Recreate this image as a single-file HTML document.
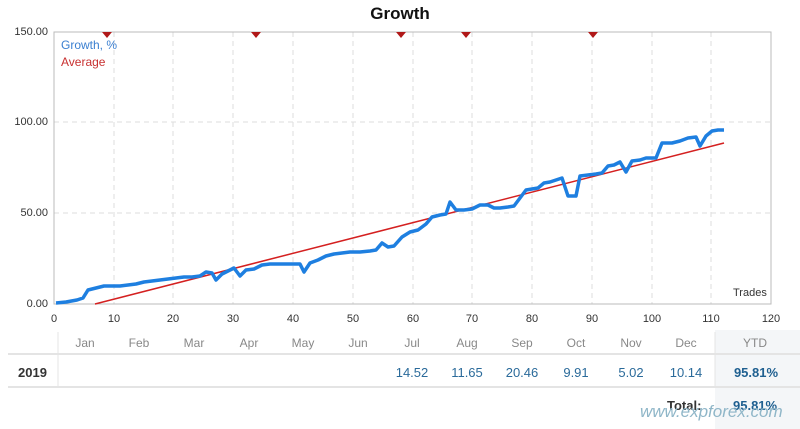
<!DOCTYPE html>
<html><head><style>
body{margin:0;width:800px;height:429px;background:#fff;font-family:"Liberation Sans","DejaVu Sans",sans-serif;overflow:hidden;position:relative}
.t{position:absolute;font-size:12px;color:#333}
.m{position:absolute;top:336px;font-size:12px;color:#888;width:50px;text-align:center}
.v{position:absolute;top:365px;font-size:13px;color:#2a6a9a;width:50px;text-align:center}
</style></head><body>
<svg width="800" height="429" style="position:absolute;left:0;top:0">
<rect x="715" y="330" width="85" height="99" fill="#f4f6f8"/>
<g stroke="#ddd" stroke-dasharray="5,4">
<line x1="54" y1="122" x2="771" y2="122"/><line x1="54" y1="213" x2="771" y2="213"/>
<line x1="114" y1="32" x2="114" y2="304"/><line x1="173" y1="32" x2="173" y2="304"/><line x1="233" y1="32" x2="233" y2="304"/><line x1="293" y1="32" x2="293" y2="304"/><line x1="353" y1="32" x2="353" y2="304"/><line x1="413" y1="32" x2="413" y2="304"/><line x1="472" y1="32" x2="472" y2="304"/><line x1="532" y1="32" x2="532" y2="304"/><line x1="592" y1="32" x2="592" y2="304"/><line x1="652" y1="32" x2="652" y2="304"/><line x1="711" y1="32" x2="711" y2="304"/>
</g>
<rect x="54" y="32" width="717" height="272" fill="none" stroke="#bbb"/>
<line x1="95" y1="304" x2="724" y2="143" stroke="#d42020" stroke-width="1.5"/>
<polyline fill="none" stroke="#1e7fe0" stroke-width="3.5" stroke-linejoin="round" points="56,303 66,302 77,300 83,298 88,290 96,288 104,286 112,286 120,286 128,285 136,284 144,282 152,281 160,280 168,279 176,278 184,277 192,277 200,276 206,272 212,273 216,280 222,274 230,270 234,268 240,276 246,270 254,269 262,265 270,264 280,264 296,264 300,264 304,272 310,263 318,260 326,256 334,254 342,253 350,252 360,252 370,251 376,250 382,243 388,247 394,246 402,237 410,232 418,230 426,224 432,217 440,215 446,214 450,202 456,210 464,210 472,209 480,205 488,205 494,208 500,208 508,207 514,206 520,198 526,190 532,189 538,188 544,183 550,182 556,180 562,178 568,196 576,196 580,176 588,175 596,174 602,173 608,166 614,165 620,162 626,172 632,161 640,160 646,158 656,158 662,143 672,143 680,141 688,138 696,137 700,146 706,136 712,131 718,130 724,130"/>
<g fill="#b01818"><path d="M102,32h10l-5,6z"/><path d="M251,32h10l-5,6z"/><path d="M396,32h10l-5,6z"/><path d="M461,32h10l-5,6z"/><path d="M588,32h10l-5,6z"/></g>
<line x1="8" y1="354" x2="800" y2="354" stroke="#e4e4e4" stroke-width="2"/>
<line x1="8" y1="387" x2="800" y2="387" stroke="#e4e4e4" stroke-width="2"/>
<line x1="58" y1="332" x2="58" y2="387" stroke="#e4e4e4"/>
<line x1="715" y1="332" x2="715" y2="387" stroke="#e4e4e4"/>
</svg>
<div class="t" style="left:0;width:800px;text-align:center;top:4px;font-size:17px;font-weight:bold;color:#111">Growth</div>
<div class="t" style="left:61px;top:38px;color:#3a7fd0">Growth, %</div>
<div class="t" style="left:61px;top:55px;color:#c83030">Average</div>
<div class="t" style="left:733px;top:287px;font-size:11px">Trades</div>
<div class="t" style="left:10px;top:26px;font-size:11px;width:38px;text-align:right">150.00</div>
<div class="t" style="left:10px;top:116px;font-size:11px;width:38px;text-align:right">100.00</div>
<div class="t" style="left:10px;top:207px;font-size:11px;width:38px;text-align:right">50.00</div>
<div class="t" style="left:10px;top:298px;font-size:11px;width:38px;text-align:right">0.00</div>
<div style="position:absolute;top:313px;left:0;font-size:11px;color:#333">
<span style="position:absolute;left:44px;width:20px;text-align:center">0</span><span style="position:absolute;left:104px;width:20px;text-align:center">10</span><span style="position:absolute;left:163px;width:20px;text-align:center">20</span><span style="position:absolute;left:223px;width:20px;text-align:center">30</span><span style="position:absolute;left:283px;width:20px;text-align:center">40</span><span style="position:absolute;left:343px;width:20px;text-align:center">50</span><span style="position:absolute;left:403px;width:20px;text-align:center">60</span><span style="position:absolute;left:462px;width:20px;text-align:center">70</span><span style="position:absolute;left:522px;width:20px;text-align:center">80</span><span style="position:absolute;left:582px;width:20px;text-align:center">90</span><span style="position:absolute;left:638px;width:28px;text-align:center">100</span><span style="position:absolute;left:697px;width:28px;text-align:center">110</span><span style="position:absolute;left:757px;width:28px;text-align:center">120</span>
</div>
<div class="m" style="left:60px">Jan</div><div class="m" style="left:114px">Feb</div><div class="m" style="left:169px">Mar</div><div class="m" style="left:224px">Apr</div><div class="m" style="left:278px">May</div><div class="m" style="left:333px">Jun</div><div class="m" style="left:387px">Jul</div><div class="m" style="left:442px">Aug</div><div class="m" style="left:497px">Sep</div><div class="m" style="left:551px">Oct</div><div class="m" style="left:606px">Nov</div><div class="m" style="left:661px">Dec</div><div class="m" style="left:730px">YTD</div>
<div class="t" style="left:18px;top:365px;font-size:13px;font-weight:bold">2019</div>
<div class="v" style="left:387px">14.52</div><div class="v" style="left:442px">11.65</div><div class="v" style="left:497px">20.46</div><div class="v" style="left:551px">9.91</div><div class="v" style="left:606px">5.02</div><div class="v" style="left:661px">10.14</div>
<div class="v" style="left:726px;width:60px;font-weight:bold;color:#1e5f90">95.81%</div>
<div class="t" style="left:667px;top:398px;font-size:13px;font-weight:bold">Total:</div>
<div class="t" style="left:733px;top:398px;font-size:13px;font-weight:bold;color:#1e5f90">95.81%</div>
<div class="t" style="left:640px;top:402px;font-size:17px;color:#8fb6c8;font-style:italic">www.expforex.com</div>
</body></html>
